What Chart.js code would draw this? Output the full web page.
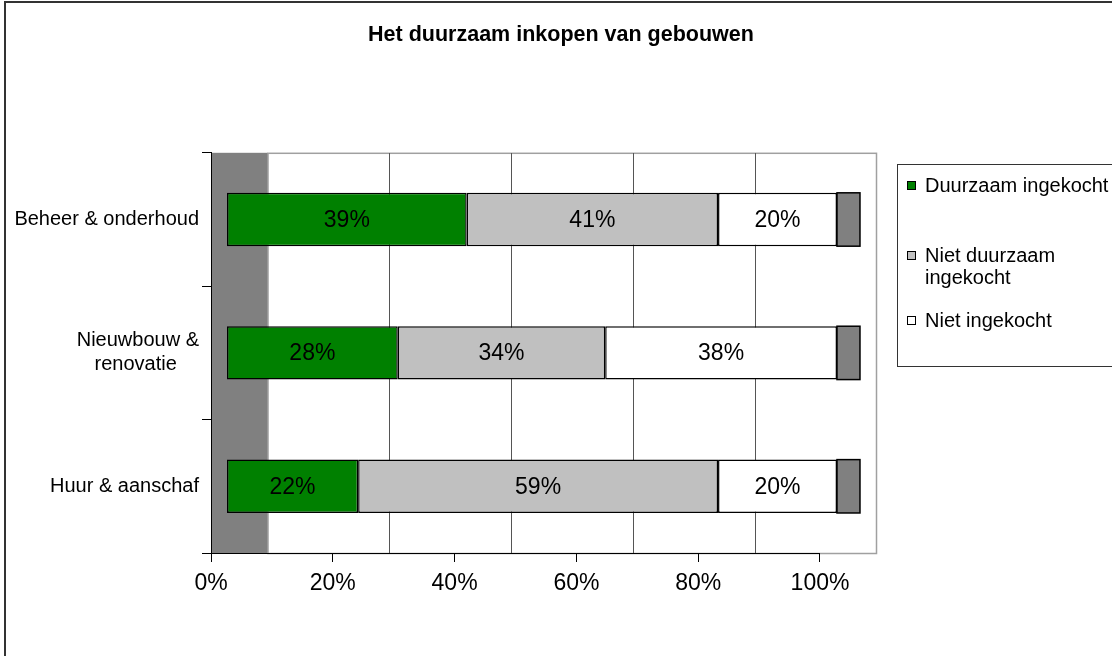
<!DOCTYPE html>
<html>
<head>
    <title>Het duurzaam inkopen van gebouwen</title>
    <script src="https://cdn.jsdelivr.net/npm/chart.js"></script>
    <style>
        html, body { margin: 0; padding: 0; overflow: hidden; background: #fff; }
        .wrap { position: relative; width: 1112px; height: 656px; overflow: hidden; }
        .frame { position: absolute; left: 4px; top: 1px; width: 1200px; height: 800px; border: 2px solid #333; box-sizing: border-box; pointer-events: none; }
        #legend { position: absolute; left: 897px; top: 164px; width: 300px; height: 203px; border: 1px solid #333; box-sizing: border-box;
                  font-family: "Liberation Sans", Arial, sans-serif; font-size: 20px; line-height: 22px; color: #000; }
        .item { position: absolute; left: 27px; width: 190px; }
        .swatch { position: absolute; left: -18px; top: 7px; width: 7px; height: 7px; border: 1px solid #000; }
    </style>
</head>
<body>
    <div class="wrap">
        <canvas id="chart"></canvas>
        <div class="frame"></div>
        <div id="legend"></div>
    </div>

    <script>
        // data
        const categories = ['Beheer & onderhoud', ['Nieuwbouw &', 'renovatie    '], 'Huur & aanschaf'];
        const seriesNames = ['Duurzaam ingekocht', 'Niet duurzaam ingekocht', 'Niet ingekocht'];
        const duurzaam = [39.3, 28.0, 21.5];
        const nietDuurzaam = [41.2, 34.0, 59.0];
        const nietIngekocht = [19.5, 38.0, 19.5];
        const tickValues = [0, 20, 40, 60, 80, 100];

        const seriesColors = ['#008000', '#c0c0c0', '#ffffff'];
        const FONT = '"Liberation Sans", Arial, sans-serif';
        Chart.defaults.font.family = FONT;
        Chart.defaults.color = '#000';

        // 3D look: side wall, back wall frame, bar end caps, value labels
        const depthPlugin = {
            id: 'depth',
            beforeDraw(chart) {
                const { ctx, chartArea } = chart;
                const g = chart.scales.xGrid;
                const x0 = g.getPixelForValue(g.min);
                const x1 = g.getPixelForValue(0);
                const x2 = g.getPixelForValue(100);
                ctx.save();
                ctx.fillStyle = '#808080';
                ctx.fillRect(x0, chartArea.top, x1 - x0, chartArea.bottom - chartArea.top);
                ctx.strokeStyle = '#a0a0a0';
                ctx.lineWidth = 1.5;
                ctx.strokeRect(x1, chartArea.top + 0.5, x2 - x1 - 0.5, chartArea.bottom - chartArea.top);
                ctx.restore();
            },
            afterDatasetsDraw(chart) {
                const ctx = chart.ctx;
                ctx.save();
                // end caps
                const last = chart.getDatasetMeta(chart.data.datasets.length - 1);
                last.data.forEach(el => {
                    const p = el.getProps(['x', 'y', 'height'], true);
                    ctx.fillStyle = '#808080';
                    ctx.strokeStyle = '#000';
                    ctx.lineWidth = 1.5;
                    ctx.fillRect(p.x, p.y - p.height / 2, 23, p.height);
                    ctx.strokeRect(p.x, p.y - p.height / 2, 23, p.height);
                });
                // value labels
                ctx.font = '23px ' + FONT;
                ctx.fillStyle = '#000';
                ctx.textAlign = 'center';
                ctx.textBaseline = 'middle';
                chart.data.datasets.forEach((ds, i) => {
                    chart.getDatasetMeta(i).data.forEach((el, j) => {
                        const p = el.getProps(['x', 'y', 'base'], true);
                        ctx.fillText(Math.round(ds.data[j]) + '%', (p.x + p.base) / 2, p.y + 1);
                    });
                });
                ctx.restore();
            },
            afterDraw(chart) {
                const { ctx, chartArea } = chart;
                const x = chart.scales.x;
                ctx.save();
                ctx.strokeStyle = '#000';
                ctx.lineWidth = 1;
                ctx.beginPath();
                ctx.moveTo(x.getPixelForValue(0) - 9, chartArea.bottom + 0.5);
                ctx.lineTo(x.getPixelForValue(100), chartArea.bottom + 0.5);
                ctx.stroke();
                ctx.restore();
            }
        };

        const datasets = [duurzaam, nietDuurzaam, nietIngekocht].map((values, i) => ({
            label: seriesNames[i],
            data: values,
            backgroundColor: seriesColors[i],
            borderColor: '#000',
            borderWidth: 1.5,
            borderSkipped: false,
            barPercentage: 0.4,
            categoryPercentage: 1,
            xAxisID: 'xBar',
            yAxisID: 'y'
        }));

        new Chart(document.getElementById('chart'), {
            type: 'bar',
            data: { labels: categories, datasets: datasets },
            plugins: [depthPlugin],
            options: {
                indexAxis: 'y',
                responsive: true,
                maintainAspectRatio: false,
                animation: false,
                layout: { padding: { left: 10, top: 0, right: 0, bottom: 0 } },
                plugins: {
                    legend: { display: false },
                    tooltip: { enabled: false },
                    title: {
                        display: true,
                        text: 'Het duurzaam inkopen van gebouwen',
                        color: '#000',
                        font: { size: 21.5, weight: 'bold' },
                        padding: { top: 22, bottom: 105 }
                    }
                },
                scales: {
                    x: {
                        type: 'linear',
                        position: 'bottom',
                        min: 0,
                        max: 109.36,
                        afterBuildTicks: s => { s.ticks = tickValues.map(v => ({ value: v })); },
                        afterFit: s => { s.height = 103; },
                        ticks: { callback: v => v + '%', font: { size: 23 }, padding: 8, maxRotation: 0, autoSkip: false },
                        grid: { drawOnChartArea: false, drawTicks: true, tickLength: 9, color: '#000' },
                        border: { display: false }
                    },
                    xGrid: {
                        axis: 'x',
                        type: 'linear',
                        position: 'top',
                        min: -9.36,
                        max: 100,
                        afterBuildTicks: s => { s.ticks = tickValues.slice(1, -1).map(v => ({ value: v })); },
                        afterFit: s => { s.height = 0; },
                        ticks: { display: false },
                        grid: { drawTicks: false, color: '#555' },
                        border: { display: false }
                    },
                    xBar: {
                        axis: 'x',
                        type: 'linear',
                        stacked: true,
                        display: false,
                        min: -2.62,
                        max: 106.56
                    },
                    y: {
                        type: 'category',
                        position: 'left',
                        stacked: true,
                        offset: true,
                        afterFit: s => { s.width = 201; },
                        ticks: { font: { size: 20 }, padding: 3 },
                        grid: { drawOnChartArea: false, offset: true, tickLength: 9, color: '#000' },
                        border: { color: '#000' }
                    },
                    yPad: {
                        axis: 'y',
                        type: 'linear',
                        position: 'right',
                        afterFit: s => { s.width = 235; },
                        ticks: { display: false },
                        grid: { display: false },
                        border: { display: false }
                    }
                }
            }
        });

        // legend built from the series
        const legendTops = [9, 79, 144];
        const legend = document.getElementById('legend');
        seriesNames.forEach((name, i) => {
            const item = document.createElement('div');
            item.className = 'item';
            item.style.top = legendTops[i] + 'px';
            item.innerHTML = `<span class="swatch" style="background:${seriesColors[i]}"></span>${name}`;
            legend.appendChild(item);
        });
    </script>
</body>
</html>
